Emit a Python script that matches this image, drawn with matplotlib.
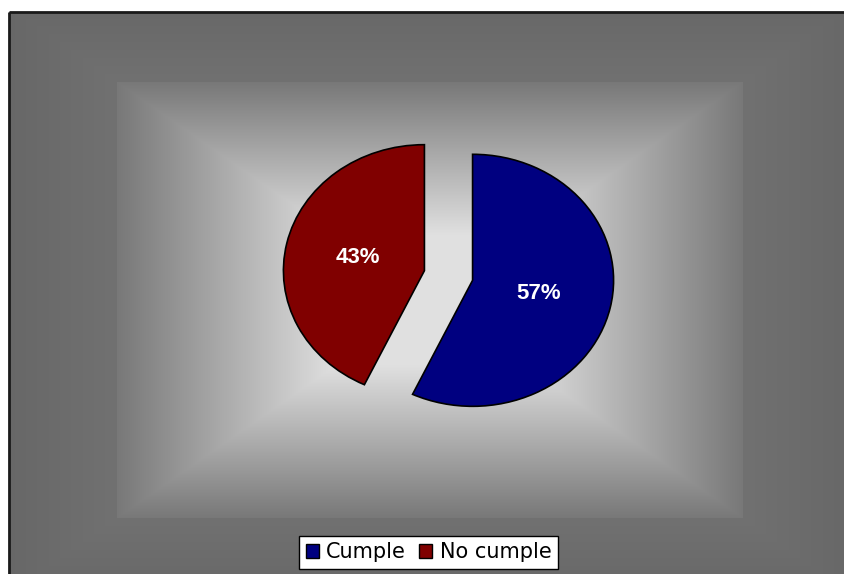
import numpy as np
import matplotlib
matplotlib.use("Agg")
import matplotlib.pyplot as plt
from matplotlib.patches import Patch

categories = ["Cumple", "No cumple"]
values = [57, 43]
colors = ["#000080", "#800000"]

W, H = 845, 574
fig = plt.figure(figsize=(W / 100, H / 100), dpi=100)

# background gradient (rectangular, from centre)
bg = fig.add_axes([0, 0, 1, 1])
yy, xx = np.mgrid[0:H, 0:W] + 0.5
cx, cy, hw, hh = 430.0, 300.0, 313.0, 218.0
t = np.maximum(np.abs(xx - cx) / hw, np.abs(yy - cy) / hh)
v = np.interp(t, [0.0, 0.3, 1.0, 1.001, 1.4, 3.0],
              [224.0, 224.0, 120.0, 113.0, 102.0, 102.0])
v = np.where((xx < 9) | (yy < 12), 255.0, v)
img = np.dstack([v, v, v]) / 255.0
bg.imshow(img, extent=(0, W, H, 0), aspect="auto", interpolation="bilinear")
bg.plot([9, W], [12, 12], color="#1a1a1a", lw=2.0, solid_capstyle="butt")
bg.plot([9, 9], [12, H], color="#1a1a1a", lw=2.0, solid_capstyle="butt")
bg.set_xlim(0, W)
bg.set_ylim(H, 0)
bg.axis("off")

# pie
cxp, cyp, rx, ry = 448.5, 275.5, 141.0, 126.0
aw, ah = 2 * 1.25 * rx, 2 * 1.25 * ry
ax = fig.add_axes([(cxp - aw / 2) / W, (H - cyp - ah / 2) / H, aw / W, ah / H])
ax.set_facecolor("none")
wedges, texts, autotexts = ax.pie(
    values, colors=colors, startangle=90, counterclock=False,
    explode=[0.175, 0.175], autopct="%1.0f%%", pctdistance=0.48,
    wedgeprops=dict(edgecolor="black", linewidth=1.2),
    textprops=dict(color="white", fontsize=16, fontweight="bold",
                   family="Liberation Sans"))
ax.set_aspect("auto")
ax.set_xlim(-1.25, 1.25)
ax.set_ylim(-1.25, 1.25)
ax.axis("off")

handles = [Patch(facecolor=c, edgecolor="black", linewidth=1.0) for c in colors]
leg = fig.legend(handles, categories, loc="center", ncol=2,
                 bbox_to_anchor=(428.5 / W, 21.5 / H),
                 prop=dict(family="DejaVu Sans", size=15),
                 frameon=True, fancybox=False, edgecolor="black", framealpha=1,
                 handlelength=0.62, handleheight=0.62, handletextpad=0.35,
                 columnspacing=0.65, borderpad=0.3, borderaxespad=0)
leg.get_frame().set_linewidth(1.0)

fig.savefig("out.png", dpi=100)
